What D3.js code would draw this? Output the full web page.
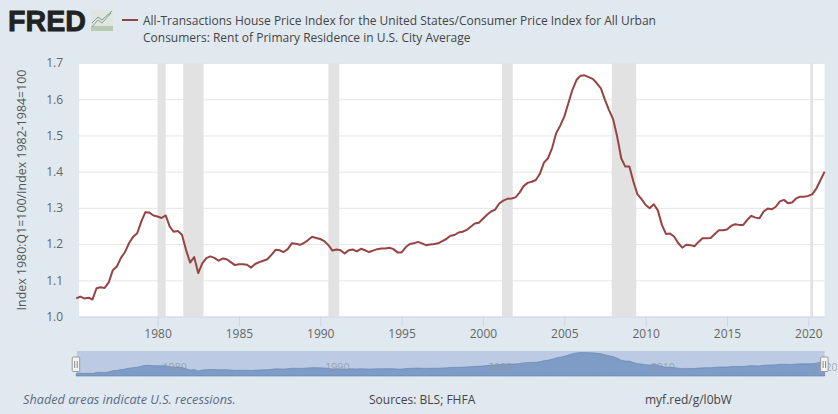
<!DOCTYPE html>
<html>
<head>
<meta charset="utf-8">
<script src="https://cdn.jsdelivr.net/npm/d3@7"></script>
<style>
  html, body { margin: 0; padding: 0; background: #e1e9f0; }
  svg { display: block; font-family: "Open Sans", sans-serif; }
  .axis text { font-size: 12px; fill: #666; font-family: "Open Sans", sans-serif; }
</style>
</head>
<body>
<div id="chart"></div>
<script>
// quarterly ratio, 1975 Q1 to 2021 Q1
const ratio1970s = [
  1.050, 1.055, 1.050, 1.052,
  1.047, 1.078, 1.081, 1.079,
  1.094, 1.128, 1.138, 1.162,
  1.178, 1.203, 1.220, 1.230,
  1.262, 1.288, 1.287, 1.279
];
const ratio1980s = [
  1.276, 1.272, 1.279, 1.248,
  1.234, 1.236, 1.226, 1.184,
  1.149, 1.164, 1.120, 1.147,
  1.161, 1.166, 1.162, 1.154,
  1.160, 1.158, 1.150, 1.142,
  1.144, 1.144, 1.143, 1.135,
  1.145, 1.150, 1.154, 1.158,
  1.170, 1.184, 1.183, 1.178,
  1.186, 1.202, 1.201, 1.198,
  1.203, 1.211, 1.220, 1.217
];
const ratio1990s = [
  1.214, 1.208, 1.197, 1.182,
  1.185, 1.183, 1.174, 1.183,
  1.185, 1.180, 1.187, 1.183,
  1.178, 1.182, 1.186, 1.188,
  1.188, 1.190, 1.186, 1.177,
  1.177, 1.191, 1.200, 1.202,
  1.206, 1.202, 1.197, 1.199,
  1.200, 1.202, 1.208, 1.214,
  1.223, 1.225, 1.232, 1.234,
  1.239, 1.248, 1.257, 1.259
];
const ratio2000s = [
  1.270, 1.281, 1.290, 1.295,
  1.312, 1.320, 1.325, 1.326,
  1.329, 1.342, 1.360, 1.369,
  1.372, 1.377, 1.394, 1.425,
  1.437, 1.465, 1.506, 1.527,
  1.552, 1.589, 1.626, 1.653,
  1.665, 1.666, 1.661, 1.656,
  1.644, 1.630, 1.598, 1.570,
  1.545, 1.497, 1.437, 1.414,
  1.414, 1.372, 1.337, 1.324
];
const ratio2010s = [
  1.308, 1.299, 1.310, 1.293,
  1.253, 1.228, 1.229, 1.221,
  1.203, 1.190, 1.198, 1.197,
  1.194, 1.206, 1.216, 1.216,
  1.217, 1.228, 1.238, 1.238,
  1.240, 1.250, 1.255, 1.253,
  1.253, 1.267, 1.278, 1.273,
  1.271, 1.290, 1.298, 1.296,
  1.303, 1.318, 1.322, 1.313,
  1.315, 1.326, 1.331, 1.331
];
const ratio2020s = [1.333, 1.338, 1.354, 1.377, 1.400];

const values = [...ratio1970s, ...ratio1980s, ...ratio1990s, ...ratio2000s, ...ratio2010s, ...ratio2020s];
const firstYear = 1975;

const recessionStart = [1980.0, 1981.58, 1990.5, 2001.17, 2007.92, 2020.12];
const recessionEnd = [1980.5, 1982.83, 1991.17, 2001.83, 2009.42, 2020.29];

const yTicks = [1.0, 1.1, 1.2, 1.3, 1.4, 1.5, 1.6, 1.7];
const xTicks = [1980, 1985, 1990, 1995, 2000, 2005, 2010, 2015, 2020];
const navTicks = [1980, 1990, 2000, 2010, 2020];

const titleLines = [
  "All-Transactions House Price Index for the United States/Consumer Price Index for All Urban",
  "Consumers: Rent of Primary Residence in U.S. City Average"
];

const lineColor = "#964443";
const data = values.map((v, i) => ({ year: firstYear + i / 4, value: v }));

const svg = d3.select("#chart").append("svg")
  .attr("width", 838)
  .attr("height", 414);

const x = d3.scaleLinear().domain([1975, 2021]).range([76.2, 824.6]);
const y = d3.scaleLinear().domain([1.0, 1.7]).range([316.5, 63]);

// plot background
svg.append("rect")
  .attr("x", 79).attr("y", 63)
  .attr("width", 824.6 - 79).attr("height", 253.5)
  .attr("fill", "#fff");

// y axis with gridlines
const yAxis = svg.append("g")
  .attr("class", "axis")
  .attr("transform", "translate(79,0)")
  .call(d3.axisLeft(y).tickValues(yTicks).tickFormat(d3.format(".1f")).tickSize(0).tickPadding(16));
yAxis.select(".domain").remove();
yAxis.selectAll(".tick").filter(d => d > 1.0).append("line")
  .attr("x2", 824.6 - 79)
  .attr("stroke", "#e6e6e6")
  .attr("stroke-width", 1);

// recessions, drawn over the gridlines as in the original
svg.append("g").selectAll("rect")
  .data(recessionStart)
  .join("rect")
  .attr("x", d => x(d))
  .attr("y", 63)
  .attr("width", (d, i) => x(recessionEnd[i]) - x(d))
  .attr("height", 253.5)
  .attr("fill", "#e2e2e2");

// x axis
const xAxis = svg.append("g")
  .attr("class", "axis")
  .attr("transform", "translate(0,316.5)")
  .call(d3.axisBottom(x).tickValues(xTicks).tickFormat(d3.format("d")).tickSize(10).tickPadding(3).tickSizeOuter(0));
xAxis.select(".domain").attr("stroke", "#ccd6eb").attr("d", "M79,0.5H824.6");
xAxis.selectAll(".tick line").attr("stroke", "#ccd6eb");

// series
const line = d3.line().x(d => x(d.year)).y(d => y(d.value));
svg.append("path")
  .datum(data)
  .attr("fill", "none")
  .attr("stroke", lineColor)
  .attr("stroke-width", 2)
  .attr("stroke-linejoin", "round")
  .attr("d", line);

// y axis title
svg.append("text")
  .attr("transform", "translate(26,190) rotate(-90)")
  .attr("text-anchor", "middle")
  .attr("font-size", 12.4)
  .attr("fill", "#555")
  .text("Index 1980:Q1=100/Index 1982-1984=100");

// logo
svg.append("text")
  .attr("x", 8).attr("y", 31)
  .attr("font-family", "Liberation Sans")
  .attr("font-weight", "bold")
  .attr("font-size", 29)
  .attr("textLength", 78)
  .attr("lengthAdjust", "spacingAndGlyphs")
  .attr("fill", "#222")
  .attr("stroke", "#222")
  .attr("stroke-width", 0.8)
  .text("FRED");
const logoIcon = svg.append("g").attr("transform", "translate(91,10)");
logoIcon.append("rect").attr("width", 22).attr("height", 21).attr("fill", "#dfe6df");
logoIcon.append("rect").attr("y", 16).attr("width", 22).attr("height", 5).attr("fill", "#b9c9b4");
logoIcon.append("path").attr("d", "M1,17L7,10L11,13L20,3").attr("fill", "none").attr("stroke", "#8da58a").attr("stroke-width", 1);
logoIcon.append("path").attr("d", "M1,13L7,7L11,10L21,1").attr("fill", "none").attr("stroke", "#7f96a8").attr("stroke-width", 1);

// legend
svg.append("line")
  .attr("x1", 122).attr("x2", 138).attr("y1", 20).attr("y2", 20)
  .attr("stroke", lineColor).attr("stroke-width", 2);
svg.append("g").selectAll("text")
  .data(titleLines)
  .join("text")
  .attr("x", 143)
  .attr("y", (d, i) => 25 + i * 17)
  .attr("font-size", 12)
  .attr("fill", "#444")
  .text(d => d);

// navigator
const navY = d3.scaleLinear().domain([d3.min(values), d3.max(values)]).range([373.5, 352.5]);
svg.append("rect")
  .attr("x", 76.7).attr("y", 351)
  .attr("width", 747.9).attr("height", 25)
  .attr("fill", "#bccbe3");
const navArea = d3.area().x(d => x(d.year)).y0(376).y1(d => navY(d.value));
svg.append("path")
  .datum(data)
  .attr("fill", "#7f9cc6")
  .attr("stroke", "#5f80b2")
  .attr("stroke-width", 0.6)
  .attr("d", navArea);
svg.append("g").selectAll("text")
  .data(navTicks)
  .join("text")
  .attr("x", d => x(d) + 5)
  .attr("y", 371)
  .attr("font-size", 10.6)
  .attr("fill", "#8a97a8")
  .attr("fill-opacity", 0.8)
  .text(d => d);
svg.append("g").selectAll("g")
  .data([1975, 2021])
  .join("g")
  .attr("transform", d => `translate(${x(d)},0)`)
  .each(function () {
    const g = d3.select(this);
    g.append("rect").attr("x", -4).attr("y", 357).attr("width", 7.5).attr("height", 14.5)
      .attr("rx", 1).attr("fill", "#f4f4f4").attr("stroke", "#999");
    g.append("path").attr("d", "M-1.5,361V368M1,361V368").attr("stroke", "#888").attr("fill", "none");
  });

// footer
svg.append("text")
  .attr("x", 23).attr("y", 404)
  .attr("font-size", 12.7)
  .attr("font-style", "italic")
  .attr("fill", "#5b6b87")
  .text("Shaded areas indicate U.S. recessions.");
svg.append("text")
  .attr("x", 369).attr("y", 404)
  .attr("font-size", 12)
  .attr("fill", "#444")
  .text("Sources: BLS; FHFA");
svg.append("text")
  .attr("x", 645).attr("y", 404)
  .attr("font-size", 12)
  .attr("fill", "#444")
  .text("myf.red/g/l0bW");
</script>
</body>
</html>
